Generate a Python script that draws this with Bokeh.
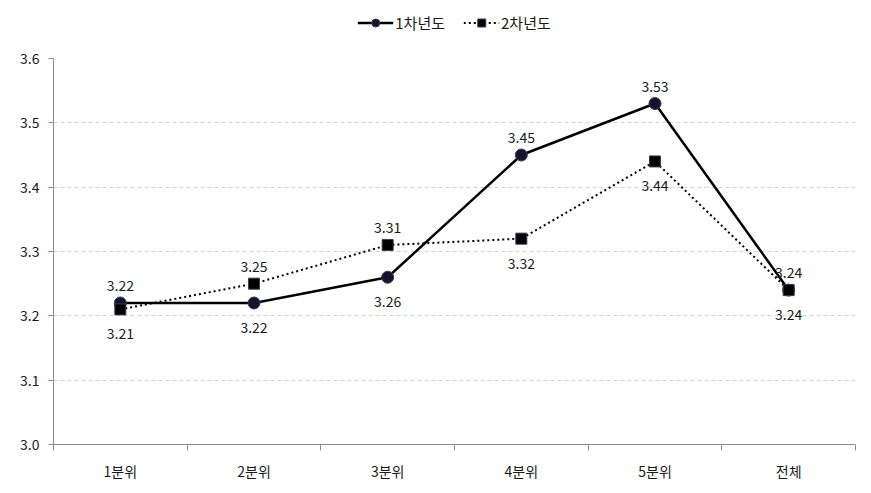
from bokeh.plotting import figure
from bokeh.layouts import column
from bokeh.models import ColumnDataSource, FixedTicker, Legend, LegendItem, Range1d, NumeralTickFormatter
from bokeh.core.properties import value
from bokeh.embed import file_html
from bokeh.resources import INLINE

categories = ["1분위", "2분위", "3분위", "4분위", "5분위", "전체"]
year1 = [3.22, 3.22, 3.26, 3.45, 3.53, 3.24]
year2 = [3.21, 3.25, 3.31, 3.32, 3.44, 3.24]
series_names = ["1차년도", "2차년도"]
year1_label_pos = ["above", "below", "below", "above", "above", "above"]
year2_label_pos = ["below", "above", "above", "below", "below", "below"]
y_ticks = [3.0, 3.1, 3.2, 3.3, 3.4, 3.5, 3.6]

FONT = "Noto Sans CJK KR"
TXT = "#1a1a1a"
AX = "#8c8c8c"
xs = list(range(len(categories)))

STYLE1 = dict(line=dict(line_color="black", line_width=2.5),
              marker=dict(marker="circle", size=12, fill_color="#14142b", line_color="#3a3a5a", line_width=1))
STYLE2 = dict(line=dict(line_color="black", line_width=2, line_dash="2 3"),
              marker=dict(marker="square", size=11, fill_color="black", line_color="#3a3a5a", line_width=1))

# ---------------- main chart ----------------
p = figure(width=871, height=449, output_backend="svg", toolbar_location=None,
           x_range=Range1d(-0.5, len(categories) - 0.5), y_range=Range1d(3.0, 3.6),
           min_border_left=53, min_border_right=16, min_border_top=14, min_border_bottom=49)
p.outline_line_color = None

p.xaxis.ticker = FixedTicker(ticks=xs, minor_ticks=[i - 0.5 for i in range(len(categories) + 1)])
p.xaxis.major_label_overrides = {i: c for i, c in enumerate(categories)}
p.xaxis.major_tick_line_color = None
p.xaxis.minor_tick_line_color = AX
p.xaxis.minor_tick_in = 0
p.xaxis.minor_tick_out = 6
p.xaxis.axis_line_color = AX
p.xaxis.major_label_text_font = FONT
p.xaxis.major_label_text_font_size = "14px"
p.xaxis.major_label_text_color = TXT
p.xaxis.major_label_standoff = 10

p.yaxis.ticker = FixedTicker(ticks=y_ticks, minor_ticks=[])
p.yaxis.formatter = NumeralTickFormatter(format="0.0")
p.yaxis.axis_line_color = AX
p.yaxis.major_tick_line_color = AX
p.yaxis.major_tick_in = 0
p.yaxis.major_tick_out = 5
p.yaxis.minor_tick_line_color = None
p.yaxis.major_label_text_font = FONT
p.yaxis.major_label_text_font_size = "14px"
p.yaxis.major_label_text_color = TXT
p.yaxis.major_label_standoff = 9

p.xgrid.grid_line_color = None
p.ygrid.grid_line_color = "#d4d4d4"
p.ygrid.grid_line_dash = "4 3"
p.ygrid.grid_line_width = 1

src1 = ColumnDataSource(dict(x=xs, y=year1))
src2 = ColumnDataSource(dict(x=xs, y=year2))

p.line("x", "y", source=src1, **STYLE1["line"])
p.scatter("x", "y", source=src1, **STYLE1["marker"])
p.line("x", "y", source=src2, **STYLE2["line"])
p.scatter("x", "y", source=src2, **STYLE2["marker"])

def add_labels(vals, positions):
    for pos, off in (("above", -12), ("below", 19)):
        idx = [i for i, q in enumerate(positions) if q == pos]
        s = ColumnDataSource(dict(x=[xs[i] for i in idx], y=[vals[i] for i in idx],
                                  lab=[f"{vals[i]:.2f}" for i in idx]))
        p.text("x", "y", text="lab", source=s, y_offset=off,
               text_align="center", text_baseline="bottom" if pos == "above" else "top",
               text_font=value(FONT), text_font_size="14px", text_color=TXT)

add_labels(year1, year1_label_pos)
add_labels(year2, year2_label_pos)

# ---------------- legend strip (same sources, out of its view range) ----------------
lg = figure(width=871, height=44, output_backend="svg", toolbar_location=None,
            x_range=Range1d(100, 101), y_range=Range1d(100, 101),
            min_border_left=0, min_border_right=0, min_border_top=0, min_border_bottom=0,
            x_axis_type=None, y_axis_type=None)
lg.outline_line_color = None
lg.xgrid.grid_line_color = None
lg.ygrid.grid_line_color = None
r1 = [lg.line("x", "y", source=src1, **STYLE1["line"]), lg.scatter("x", "y", source=src1, **STYLE1["marker"])]
r2 = [lg.line("x", "y", source=src2, **STYLE2["line"]), lg.scatter("x", "y", source=src2, **STYLE2["marker"])]
legend = Legend(items=[LegendItem(label=series_names[0], renderers=r1),
                       LegendItem(label=series_names[1], renderers=r2)],
                orientation="horizontal", location="center",
                label_text_font=FONT, label_text_font_size="15px", label_text_color=TXT,
                border_line_color=None, background_fill_alpha=0,
                glyph_width=36, glyph_height=20, label_height=20, spacing=18, padding=2,
                margin=0, label_standoff=2)
lg.add_layout(legend, "center")

layout = column(lg, p, spacing=0)
open("out.html", "w").write(file_html(layout, INLINE))
